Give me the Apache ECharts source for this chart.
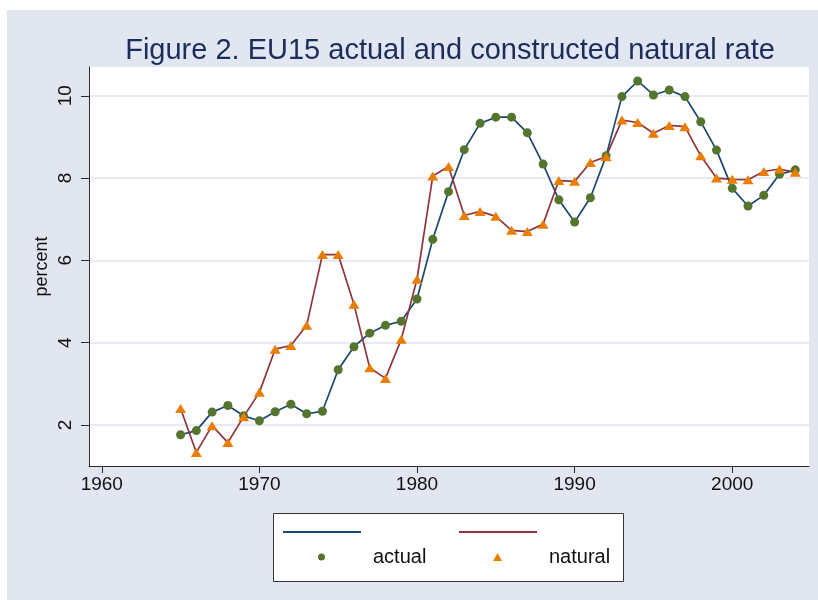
<!DOCTYPE html>
<html>
<head>
<meta charset="utf-8">
<script src="https://cdn.jsdelivr.net/npm/echarts@6/dist/echarts.min.js"></script>
<style>
  html, body { margin: 0; padding: 0; background: #ffffff; width: 818px; height: 600px; overflow: hidden; }
  #chart { position: absolute; left: 7px; top: 10px; width: 811px; height: 590px; }
</style>
</head>
<body>
<div id="chart"></div>
<script>
const titleText = 'Figure 2. EU15 actual and constructed natural rate';
const yAxisName = 'percent';
const years = [1965,1966,1967,1968,1969,1970,1971,1972,1973,1974,
               1975,1976,1977,1978,1979,1980,1981,1982,1983,1984,
               1985,1986,1987,1988,1989,1990,1991,1992,1993,1994,
               1995,1996,1997,1998,1999,2000,2001,2002,2003,2004];
const actual = [1.76,1.86,2.31,2.47,2.22,2.10,2.32,2.50,2.27,2.33,
                3.34,3.90,4.23,4.42,4.52,5.06,6.51,7.67,8.69,9.33,
                9.48,9.48,9.10,8.34,7.47,6.93,7.52,8.54,9.98,10.36,
                10.02,10.14,9.98,9.37,8.68,7.75,7.32,7.58,8.09,8.20];
const natural = [2.40,1.33,1.98,1.57,2.20,2.79,3.84,3.93,4.42,6.14,
                 6.14,4.93,3.39,3.13,4.08,5.54,8.05,8.28,7.09,7.19,
                 7.07,6.73,6.70,6.88,7.94,7.92,8.38,8.52,9.41,9.35,
                 9.09,9.28,9.25,8.54,8.00,7.97,7.96,8.16,8.22,8.14];
const xTicks = [1960,1970,1980,1990,2000];
const yTicks = [2,4,6,8,10];
const legendLabels = ['actual','natural'];

const FONT = "'Liberation Sans', Arial, Helvetica, sans-serif";
const C_NAVY = '#1a476f', C_MAROON = '#90353b', C_GREEN = '#55752f', C_ORANGE = '#e87d00';

const pairs = arr => years.map((y, i) => [y, arr[i]]);

const chart = echarts.init(document.getElementById('chart'), null, { renderer: 'canvas' });
chart.setOption({
  animation: false,
  backgroundColor: '#e1e6f0',
  title: {
    text: titleText,
    left: 438, top: 21, textAlign: 'center',
    textStyle: { fontFamily: FONT, fontSize: 29, fontWeight: 'normal', color: '#1c2d5c' }
  },
  grid: {
    left: 82, right: 9, top: 57, bottom: 134,
    show: true, backgroundColor: '#ffffff', borderWidth: 0
  },
  graphic: [{
    type: 'rect', z: 0,
    shape: { x: 266.5, y: 503.5, width: 350, height: 68 },
    style: { fill: '#ffffff', stroke: '#333333', lineWidth: 1 }
  }],
  legend: [
    { data: [{ name: 'actual line', icon: 'rect' }], left: 276, top: 521, padding: 0, itemWidth: 78, itemHeight: 2,
      formatter: () => '', textStyle: { fontSize: 1 } },
    { data: [{ name: 'natural line', icon: 'rect' }], left: 452, top: 521, padding: 0, itemWidth: 78, itemHeight: 2,
      formatter: () => '', textStyle: { fontSize: 1 } },
    { data: [{ name: legendLabels[0], icon: 'circle' }], left: 311, top: 537, padding: 0, itemWidth: 7, itemHeight: 7,
      textStyle: { fontFamily: FONT, fontSize: 20, color: '#111', padding: [0, 0, 0, 43] } },
    { data: [{ name: legendLabels[1], icon: 'triangle' }], left: 486, top: 537, padding: 0, itemWidth: 9, itemHeight: 8,
      textStyle: { fontFamily: FONT, fontSize: 20, color: '#111', padding: [0, 0, 0, 42] } }
  ],
  xAxis: {
    type: 'value', min: 1959.19, max: 2004.87,
    axisLine: { show: true, lineStyle: { color: '#2b2b2b', width: 1 } },
    axisTick: { show: true, length: 7, customValues: xTicks, lineStyle: { color: '#2b2b2b' } },
    axisLabel: { customValues: xTicks, formatter: v => String(v), margin: 9, fontFamily: FONT, fontSize: 19, color: '#111' },
    splitLine: { show: false }
  },
  yAxis: {
    type: 'value', min: 1.0, max: 10.7,
    name: yAxisName, nameLocation: 'middle', nameGap: 38, nameRotate: 90, nameMoveOverlap: false,
    nameTextStyle: { fontFamily: FONT, fontSize: 18, color: '#111' },
    axisLine: { show: true, lineStyle: { color: '#2b2b2b', width: 1 } },
    axisTick: { show: true, length: 8, customValues: yTicks, lineStyle: { color: '#2b2b2b' } },
    axisLabel: { customValues: yTicks, formatter: v => String(v), rotate: 90, margin: 14, fontFamily: FONT, fontSize: 19, color: '#111' },
    splitLine: { show: true, lineStyle: { color: '#dfe5ef', width: 1.5 } }
  },
  series: [
    { name: 'actual line', type: 'line', data: pairs(actual), symbol: 'none',
      lineStyle: { color: C_NAVY, width: 1.7 }, itemStyle: { color: C_NAVY }, z: 2 },
    { name: 'natural line', type: 'line', data: pairs(natural), symbol: 'none',
      lineStyle: { color: C_MAROON, width: 1.7 }, itemStyle: { color: C_MAROON }, z: 2 },
    { name: legendLabels[0], type: 'scatter', data: pairs(actual), symbol: 'circle', symbolSize: 9,
      itemStyle: { color: C_GREEN, opacity: 1 }, z: 3 },
    { name: legendLabels[1], type: 'scatter', data: pairs(natural), symbol: 'triangle', symbolSize: [11, 9],
      itemStyle: { color: C_ORANGE, opacity: 1 }, z: 4 }
  ]
});
</script>
</body>
</html>
